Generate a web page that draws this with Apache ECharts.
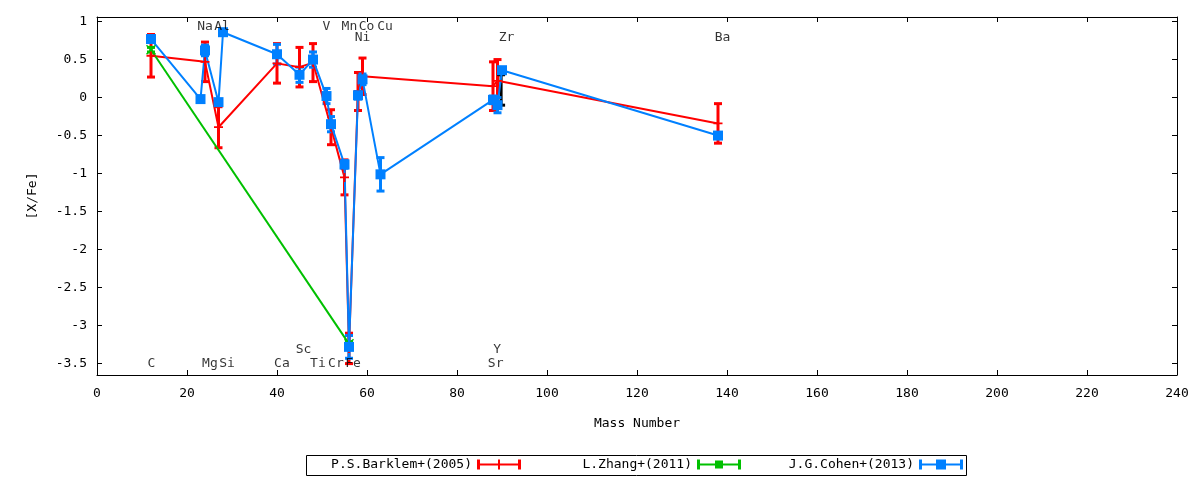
<!DOCTYPE html>
<html>
<head>
<meta charset="utf-8">
<script src="https://cdn.jsdelivr.net/npm/echarts@6/dist/echarts.min.js"></script>
<style>
  html, body { margin: 0; padding: 0; background: #fff; }
  #main { width: 1200px; height: 480px; }
</style>
</head>
<body>
<div id="main"></div>
<script>
var chartDom = document.getElementById('main');
var myChart = echarts.init(chartDom);
var option;

const FONT = 'DejaVu Sans Mono';
const red = '#ff0000';
const green = '#00c000';
const blue = '#0080ff';

// P.S.Barklem+(2005)
const barklemX = [12, 24, 27, 40, 45, 48, 52, 55, 56, 58, 59, 88, 89, 138];
const barklemY = [0.55, 0.47, -0.39, 0.45, 0.40, 0.46, -0.39, -1.05, -3.30, 0.08, 0.28, 0.15, 0.22, -0.34];
const barklemErr = [0.28, 0.26, 0.27, 0.26, 0.26, 0.25, 0.23, 0.23, 0.20, 0.25, 0.24, 0.32, 0.28, 0.26];

// L.Zhang+(2011)
const zhangX = [12, 56];
const zhangY = [0.63, -3.24];
const zhangErr = [0.03, 0.03];

// J.G.Cohen+(2013)
const cohenX = [12, 23, 24, 27, 28, 40, 45, 48, 51, 52, 55, 56, 58, 59, 63, 88, 89, 90, 138];
const cohenY = [0.77, -0.02, 0.62, -0.06, 0.86, 0.57, 0.30, 0.50, 0.02, -0.35, -0.88, -3.28, 0.03, 0.24, -1.01, -0.03, -0.10, 0.36, -0.50];
const cohenErr = [0.03, 0.03, 0.07, 0.03, 0.03, 0.13, 0.10, 0.10, 0.10, 0.10, 0.05, 0.15, 0.05, 0.07, 0.22, 0.05, 0.10, 0.03, 0.03];

// unlabelled black bar near Zr
const extraX = [89.8];
const extraY = [0.10];
const extraErr = [0.20];

// element labels
const labelNames = ['Na', 'Al', 'V', 'Mn', 'Co', 'Cu', 'Ni', 'Zr', 'Ba',
                    'C', 'Mg', 'Si', 'Ca', 'Sc', 'Ti', 'Cr', 'Fe', 'Y', 'Sr'];
const labelX = [24.0, 27.8, 51.0, 56.1, 59.9, 64.0, 59.0, 91.0, 139.0,
                12.1, 25.1, 28.9, 41.1, 45.9, 49.1, 53.1, 56.9, 88.9, 88.6];
const labelY = [0.93, 0.93, 0.93, 0.93, 0.93, 0.93, 0.79, 0.79, 0.79,
                -3.5, -3.5, -3.5, -3.5, -3.31, -3.5, -3.5, -3.5, -3.31, -3.5];

const legendNames = ['P.S.Barklem+(2005)', 'L.Zhang+(2011)', 'J.G.Cohen+(2013)'];

function rows(xs, ys, es) {
  return xs.map(function (x, i) { return [x, ys[i], es[i]]; });
}

function errorBars(color) {
  return function (params, api) {
    const x = api.value(0), y = api.value(1), e = api.value(2);
    const hi = api.coord([x, y + e]);
    const lo = api.coord([x, y - e]);
    const cap = 4;
    const style = { stroke: color, lineWidth: 3 };
    return {
      type: 'group',
      children: [
        { type: 'line', shape: { x1: hi[0], y1: hi[1], x2: lo[0], y2: lo[1] }, style: style },
        { type: 'line', shape: { x1: hi[0] - cap, y1: hi[1], x2: hi[0] + cap, y2: hi[1] }, style: style },
        { type: 'line', shape: { x1: lo[0] - cap, y1: lo[1], x2: lo[0] + cap, y2: lo[1] }, style: style }
      ]
    };
  };
}

const plusSym = 'path://M4,0 L6,0 L6,4 L10,4 L10,6 L6,6 L6,10 L4,10 L4,6 L0,6 L0,4 L4,4 Z';
const crossSym = 'path://M0,1 L1,0 L5,4 L9,0 L10,1 L6,5 L10,9 L9,10 L5,6 L1,10 L0,9 L4,5 Z';

const iconBase = 'M0,4 H44 V6 H0 Z M0,0 H3 V10 H0 Z M41,0 H44 V10 H41 Z ';
const icons = [
  'path://' + iconBase + 'M21,0 H23 V10 H21 Z',
  'path://' + iconBase + 'M18,1 H26 V9 H18 Z',
  'path://' + iconBase + 'M17,0 H27 V10 H17 Z'
];
const legendRight = [679, 459, 237];

function lineSeries(name, xs, ys, color, symbol, size) {
  return {
    name: name,
    type: 'line',
    data: xs.map(function (x, i) { return [x, ys[i]]; }),
    symbol: symbol,
    symbolSize: size,
    showAllSymbol: true,
    clip: false,
    itemStyle: { color: color },
    lineStyle: { color: color, width: 2 },
    z: 2
  };
}

function barSeries(name, data, color) {
  return {
    name: name,
    type: 'custom',
    data: data,
    encode: { x: 0, y: 1 },
    renderItem: errorBars(color),
    clip: false,
    itemStyle: { color: color },
    z: 2
  };
}

const axisLineStyle = { onZero: false, show: true, lineStyle: { color: '#000', width: 1 } };
const tickStyle = { show: true, inside: true, length: 5, lineStyle: { color: '#000' } };

option = {
  animation: false,
  textStyle: { fontFamily: FONT, fontSize: 13, color: '#000' },
  grid: { left: 97, right: 23, top: 17, bottom: 105 },
  legend: legendNames.map(function (n, i) {
    return {
      data: [{ name: n, icon: icons[i] }],
      right: legendRight[i],
      top: 458,
      padding: 0,
      align: 'right',
      itemWidth: 44,
      itemHeight: 10,
      itemStyle: { borderWidth: 0 },
      selectedMode: false,
      textStyle: { fontFamily: FONT, fontSize: 13, color: '#000' }
    };
  }),
  graphic: [
    {
      type: 'rect',
      shape: { x: 306.5, y: 455.5, width: 660, height: 20 },
      style: { fill: 'none', stroke: '#000', lineWidth: 1 },
      silent: true
    }
  ],
  xAxis: [
    {
      type: 'value',
      position: 'bottom',
      min: 0,
      max: 240,
      interval: 20,
      name: 'Mass Number',
      nameLocation: 'middle',
      nameGap: 42,
      nameTextStyle: { fontFamily: FONT, fontSize: 13, color: '#000' },
      axisLine: axisLineStyle,
      axisTick: tickStyle,
      axisLabel: { margin: 12, color: '#000', fontFamily: FONT, fontSize: 13 },
      splitLine: { show: false }
    },
    {
      type: 'value',
      position: 'top',
      min: 0,
      max: 240,
      interval: 20,
      axisLine: axisLineStyle,
      axisTick: tickStyle,
      axisLabel: { show: false },
      splitLine: { show: false }
    }
  ],
  yAxis: [
    {
      type: 'value',
      position: 'left',
      min: -3.65,
      max: 1.06,
      splitNumber: 9,
      name: '[X/Fe]',
      nameLocation: 'middle',
      nameRotate: 90,
      nameGap: 58,
      nameTextStyle: { fontFamily: FONT, fontSize: 13, color: '#000' },
      axisLine: axisLineStyle,
      axisTick: tickStyle,
      axisLabel: { margin: 10, color: '#000', fontFamily: FONT, fontSize: 13,
                   showMinLabel: false, showMaxLabel: false },
      splitLine: { show: false }
    },
    {
      type: 'value',
      position: 'right',
      min: -3.65,
      max: 1.06,
      splitNumber: 9,
      axisLine: axisLineStyle,
      axisTick: tickStyle,
      axisLabel: { show: false },
      splitLine: { show: false }
    }
  ],
  series: [
    lineSeries(legendNames[0], barklemX, barklemY, red, plusSym, 9),
    barSeries(legendNames[0], rows(barklemX, barklemY, barklemErr), red),
    lineSeries(legendNames[1], zhangX, zhangY, green, crossSym, 10),
    barSeries(legendNames[1], rows(zhangX, zhangY, zhangErr), green),
    barSeries('extra', rows(extraX, extraY, extraErr), '#000'),
    lineSeries(legendNames[2], cohenX, cohenY, blue, 'rect', 10),
    barSeries(legendNames[2], rows(cohenX, cohenY, cohenErr), blue),
    {
      type: 'scatter',
      silent: true,
      symbolSize: 0,
      data: labelX.map(function (x, i) { return [x, labelY[i], labelNames[i]]; }),
      label: {
        show: true,
        position: 'inside',
        formatter: function (p) { return p.value[2]; },
        color: '#000',
        fontFamily: FONT,
        fontSize: 13
      },
      z: 5
    }
  ]
};

option && myChart.setOption(option);
</script>
</body>
</html>
